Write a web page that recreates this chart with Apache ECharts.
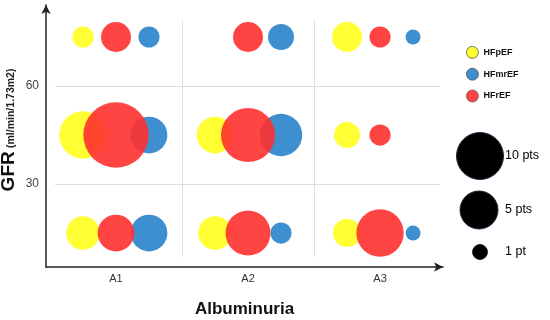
<!DOCTYPE html>
<html>
<head>
<meta charset="utf-8">
<script src="https://cdn.jsdelivr.net/npm/echarts@6/dist/echarts.min.js"></script>
<style>html,body{margin:0;padding:0;background:#fff}#c{width:550px;height:320px}</style>
</head>
<body>
<div id="c"></div>
<script>
// ---- data ----
const categories = ['A1', 'A2', 'A3'];          // albuminuria stages
const gfrLevels = [15, 45, 75];                  // GFR row centres (ml/min/1.73m2)
const yTicks = [30, 60];
// number of patients ("pts") per albuminuria category, per GFR level [15, 45, 75]
const hfpefPts  = [[5, 10, 2], [5, 6, 0], [3.5, 3, 4]];
const hfmrefPts = [[6, 6, 2], [2, 8, 3], [1, 0, 1]];
const hfrefPts  = [[6, 19, 4], [9, 13, 4], [10, 2, 2]];
const seriesNames = ['HFpEF', 'HFmrEF', 'HFrEF'];

// ---- build ----
const FONT = 'Liberation Sans, Arial, sans-serif';
function toData(pts, shift) {
  const out = [];
  pts.forEach((col, ci) => col.forEach((n, gi) => {
    if (n > 0) out.push([ci + 1 + shift, gfrLevels[gi], n]);
  }));
  return out;
}
const sizeFn = d => 15 * Math.sqrt(d[2]);

const chart = echarts.init(document.getElementById('c'), null, {renderer: 'canvas'});
const gridLine = {color: '#dedede', width: 1, type: 'solid'};
chart.setOption({
  animation: false,
  textStyle: {fontFamily: FONT},
  grid: {left: 46, right: 107, top: 5, bottom: 53, containLabel: false, outerBoundsMode: 'none'},
  xAxis: {
    type: 'value', min: 0.4697, max: 3.477, minInterval: 1, maxInterval: 1,
    axisLine: {show: true, onZero: false, symbol: ['none', 'arrow'], symbolSize: [7, 9],
      lineStyle: {color: '#222', width: 1.5}},
    axisTick: {show: false}, splitLine: {show: false},
    axisLabel: {color: '#333', fontSize: 11, margin: 6, showMinLabel: false, showMaxLabel: false,
      formatter: v => (Number.isInteger(v) && categories[v - 1]) || ''},
    name: 'Albuminuria', nameLocation: 'middle', nameGap: 34, nameMoveOverlap: false,
    nameTextStyle: {fontSize: 17, fontWeight: 'bold', color: '#111'}
  },
  yAxis: {
    type: 'value', min: 4.6, max: 84.8, minInterval: 30, maxInterval: 30,
    axisLine: {show: true, onZero: false, symbol: ['none', 'arrow'], symbolSize: [7, 9],
      lineStyle: {color: '#222', width: 1.5}},
    axisTick: {show: false}, splitLine: {show: false},
    axisLabel: {color: '#444', fontSize: 12, margin: 7, showMinLabel: false, showMaxLabel: false,
      formatter: v => yTicks.includes(v) ? String(v) : ''},
    name: '{a|GFR} {b|(ml/min/1.73m2)}', nameLocation: 'middle', nameGap: 28, nameMoveOverlap: false,
    nameTextStyle: {
      padding: [0, 0, 0, 12],
      rich: {
        a: {fontSize: 19, fontWeight: 'bold', color: '#111'},
        b: {fontSize: 10.5, fontWeight: 'bold', color: '#222', padding: [5, 0, 0, 0]}
      }
    }
  },
  legend: {
    data: seriesNames, orient: 'vertical', left: 461, top: 41,
    itemWidth: 12, itemHeight: 12, itemGap: 9, icon: 'circle',
    itemStyle: {borderColor: '#555', borderWidth: 0.8},
    textStyle: {fontSize: 9, fontWeight: 'bold', color: '#111'}
  },
  series: [
    {name: 'HFpEF', type: 'scatter', data: toData(hfpefPts, -0.25), symbolSize: sizeFn,
      itemStyle: {color: '#FFFF33', opacity: 1},
      markLine: {silent: true, symbol: ['none', 'none'], label: {show: false}, lineStyle: gridLine,
        data: [
          [{coord: [0.538, 30]}, {coord: [3.4545, 30]}],
          [{coord: [0.538, 60]}, {coord: [3.4545, 60]}],
          [{coord: [1.5, 7.65]}, {coord: [1.5, 80.2]}],
          [{coord: [2.5, 7.65]}, {coord: [2.5, 80.2]}]
        ]}},
    {name: 'HFmrEF', type: 'scatter', data: toData(hfmrefPts, 0.25), symbolSize: sizeFn,
      itemStyle: {color: '#3D8FD0', opacity: 1}},
    {name: 'HFrEF', type: 'scatter', data: toData(hfrefPts, 0), symbolSize: sizeFn,
      itemStyle: {color: '#FF3030', opacity: 0.9}}
  ],
  graphic: [
    {type: 'circle', shape: {cx: 480, cy: 156, r: 23.5}, style: {fill: '#000', stroke: '#1c2742', lineWidth: 1}},
    {type: 'circle', shape: {cx: 479, cy: 210, r: 19}, style: {fill: '#000', stroke: '#1c2742', lineWidth: 1}},
    {type: 'circle', shape: {cx: 480, cy: 252, r: 7.5}, style: {fill: '#000', stroke: '#1c2742', lineWidth: 1}},
    {type: 'text', x: 505, y: 156, style: {text: '10 pts', fontSize: 12.5, fontFamily: FONT, fill: '#000', verticalAlign: 'middle'}},
    {type: 'text', x: 505, y: 210, style: {text: '5 pts', fontSize: 12.5, fontFamily: FONT, fill: '#000', verticalAlign: 'middle'}},
    {type: 'text', x: 505, y: 252, style: {text: '1 pt', fontSize: 12.5, fontFamily: FONT, fill: '#000', verticalAlign: 'middle'}}
  ]
});
</script>
</body>
</html>
